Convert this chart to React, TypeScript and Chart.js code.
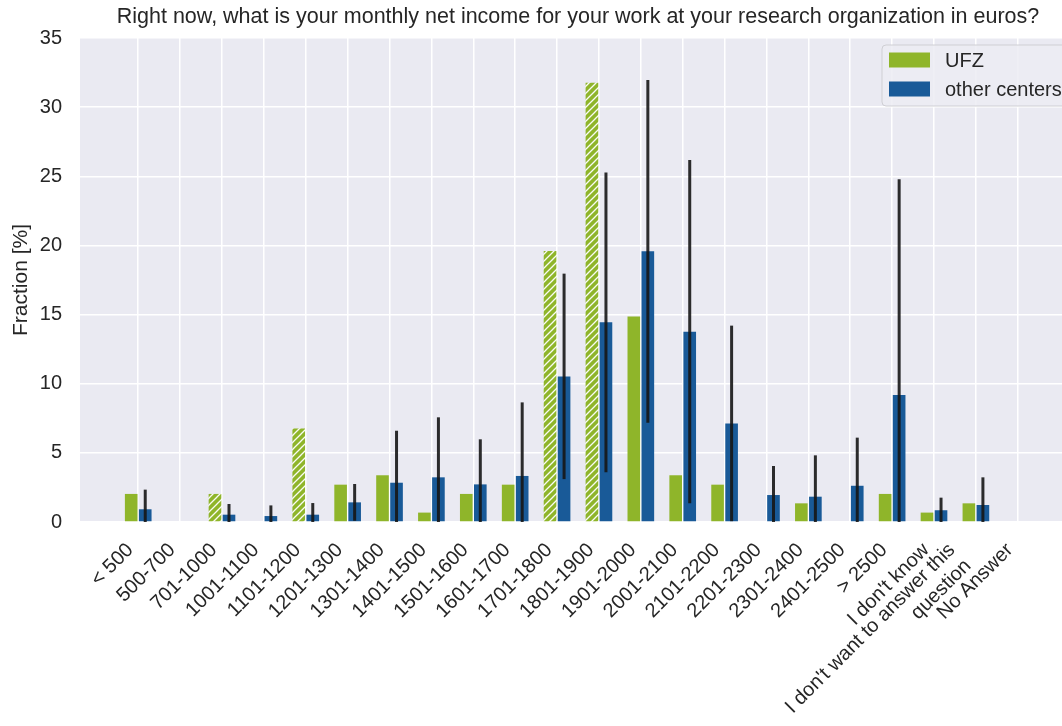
import React, { useEffect, useRef } from 'react';
import { Chart, registerables } from 'chart.js';

Chart.register(...registerables);

const TITLE = 'Right now, what is your monthly net income for your work at your research organization in euros?';
const Y_LABEL = 'Fraction [%]';

const categories: string[] = [
  '< 500', '500-700', '701-1000', '1001-1100', '1101-1200', '1201-1300', '1301-1400',
  '1401-1500', '1501-1600', '1601-1700', '1701-1800', '1801-1900', '1901-2000',
  '2001-2100', '2101-2200', '2201-2300', '2301-2400', '2401-2500', '> 2500',
  "I don't know", "I don't want to answer this\nquestion", 'No Answer',
];

const seriesNames = ['UFZ', 'other centers'];

const ufzValues = [
  2.03, 0, 2.03, 0, 6.76, 2.70, 3.38, 0.68, 2.03, 2.70, 19.59, 31.76, 14.86,
  3.38, 2.70, 0, 1.35, 0, 2.03, 0.68, 1.35, 0,
];

const ufzHatched = [
  false, false, true, false, true, false, false, false, false, false, true, true, false,
  false, false, false, false, false, false, false, false, false,
];

const otherValues = [
  0.92, 0, 0.53, 0.43, 0.53, 1.42, 2.84, 3.23, 2.72, 3.33, 10.53, 14.44, 19.57,
  13.76, 7.13, 1.95, 1.83, 2.62, 9.18, 0.85, 1.23, 0,
];

const otherErrors = [
  1.42, 0, 0.77, 0.77, 0.84, 1.33, 3.76, 4.34, 3.26, 5.32, 7.43, 10.84, 12.39,
  12.41, 7.07, 2.1, 2.99, 3.48, 15.6, 0.91, 2.0, 0,
];

const yTicks = [0, 5, 10, 15, 20, 25, 30, 35];

const GREEN = '#8fb52a';
const BLUE = '#195a98';
const BG = '#eaeaf2';
const TEXT = '#262626';
const FONT = "'Liberation Sans', Arial, sans-serif";

function makeHatch(): CanvasPattern | string {
  const s = 7;
  const c = document.createElement('canvas');
  c.width = s;
  c.height = s;
  const g = c.getContext('2d');
  if (!g) return GREEN;
  g.fillStyle = GREEN;
  g.fillRect(0, 0, s, s);
  g.strokeStyle = 'rgba(255,255,255,0.95)';
  g.lineWidth = 1.3;
  g.beginPath();
  g.moveTo(-1, s + 1);
  g.lineTo(s + 1, -1);
  g.moveTo(-1, 1);
  g.lineTo(1, -1);
  g.moveTo(s - 1, s + 1);
  g.lineTo(s + 1, s - 1);
  g.stroke();
  const p = g.createPattern(c, 'repeat');
  return p || GREEN;
}

const bgPlugin = {
  id: 'bgArea',
  beforeDraw(chart: any) {
    const { ctx, chartArea: a } = chart;
    ctx.save();
    ctx.fillStyle = BG;
    ctx.fillRect(a.left, a.top, a.right - a.left, a.bottom - a.top);
    ctx.restore();
  },
};

const errorPlugin = {
  id: 'errorBars',
  afterDatasetsDraw(chart: any) {
    const { ctx, chartArea: a } = chart;
    const ys = chart.scales.y;
    const meta = chart.getDatasetMeta(1);
    ctx.save();
    ctx.beginPath();
    ctx.rect(a.left, a.top, a.right - a.left, a.bottom - a.top);
    ctx.clip();
    ctx.strokeStyle = 'rgba(22,22,22,0.9)';
    ctx.lineWidth = 3;
    ctx.lineCap = 'butt';
    meta.data.forEach((el: any, i: number) => {
      const e = otherErrors[i];
      if (!e) return;
      const v = otherValues[i];
      const top = ys.getPixelForValue(v + e);
      const bot = ys.getPixelForValue(Math.max(v - e, ys.min));
      ctx.beginPath();
      ctx.moveTo(el.x, top);
      ctx.lineTo(el.x, bot);
      ctx.stroke();
    });
    ctx.restore();
  },
};

// Title centred over the plot area, and rotated category labels aligned like matplotlib (ha='right')
const textPlugin = {
  id: 'texts',
  afterDraw(chart: any) {
    const { ctx, chartArea: a } = chart;
    const xs = chart.scales.x;
    ctx.save();
    ctx.fillStyle = TEXT;
    ctx.font = `21.5px ${FONT}`;
    ctx.textAlign = 'center';
    ctx.textBaseline = 'middle';
    ctx.fillText(TITLE, (a.left + a.right) / 2, 17);

    const fs = 20;
    const lh = 22.5;
    const c45 = Math.SQRT1_2;
    const top = a.bottom + 17;
    ctx.font = `${fs}px ${FONT}`;
    ctx.textAlign = 'right';
    ctx.textBaseline = 'middle';
    categories.forEach((label, i) => {
      const lines = label.split('\n');
      const W = Math.max(...lines.map((l) => ctx.measureText(l).width));
      const H = lines.length * lh;
      const tickX = xs.getPixelForValue(i);
      const tx = tickX - c45 * (W + H);
      const ty = top + c45 * W;
      ctx.save();
      ctx.translate(tx, ty);
      ctx.rotate(-Math.PI / 4);
      lines.forEach((l, k) => {
        ctx.fillText(l, W, lh * (k + 0.5));
      });
      ctx.restore();
    });
    ctx.restore();
  },
};

const legendPlugin = {
  id: 'innerLegend',
  afterDraw(chart: any) {
    const { ctx, chartArea: a } = chart;
    ctx.save();
    ctx.font = `20px ${FONT}`;
    const padL = 7;
    const patchW = 41;
    const gap = 15;
    const x0 = a.right - 194;
    const w = 192;
    const h = 61;
    const y0 = a.top + 7;
    ctx.fillStyle = 'rgba(236,236,243,0.85)';
    ctx.strokeStyle = '#cfcfd4';
    ctx.lineWidth = 1;
    ctx.beginPath();
    const r = 4;
    ctx.moveTo(x0 + r, y0);
    ctx.lineTo(x0 + w - r, y0);
    ctx.arcTo(x0 + w, y0, x0 + w, y0 + r, r);
    ctx.lineTo(x0 + w, y0 + h - r);
    ctx.arcTo(x0 + w, y0 + h, x0 + w - r, y0 + h, r);
    ctx.lineTo(x0 + r, y0 + h);
    ctx.arcTo(x0, y0 + h, x0, y0 + h - r, r);
    ctx.lineTo(x0, y0 + r);
    ctx.arcTo(x0, y0, x0 + r, y0, r);
    ctx.closePath();
    ctx.fill();
    ctx.stroke();
    const colors = [GREEN, BLUE];
    const rows = [y0 + 15, y0 + 44];
    seriesNames.forEach((n, i) => {
      ctx.fillStyle = colors[i];
      ctx.fillRect(x0 + padL, rows[i] - 7.5, patchW, 15);
      ctx.fillStyle = TEXT;
      ctx.textBaseline = 'middle';
      ctx.textAlign = 'left';
      ctx.fillText(n, x0 + padL + patchW + gap, rows[i] + 1);
    });
    ctx.restore();
  },
};

export default function App() {
  const ref = useRef<HTMLCanvasElement | null>(null);

  useEffect(() => {
    const canvas = ref.current;
    if (!canvas) return;
    const hatch = makeHatch();
    const ufzBg = ufzHatched.map((h) => (h ? hatch : GREEN));
    const chart = new Chart(canvas, {
      type: 'bar',
      data: {
        datasets: [
          {
            label: seriesNames[0],
            data: ufzValues.map((v, i) => ({ x: i, y: v })),
            backgroundColor: ufzBg as any,
            borderWidth: 0,
            categoryPercentage: 0.67,
            barPercentage: 0.9,
          },
          {
            label: seriesNames[1],
            data: otherValues.map((v, i) => ({ x: i, y: v })),
            backgroundColor: BLUE,
            borderWidth: 0,
            categoryPercentage: 0.67,
            barPercentage: 0.9,
          },
        ],
      },
      options: {
        animation: false,
        responsive: true,
        maintainAspectRatio: false,
        layout: { padding: { left: 0, right: 14, top: 38, bottom: 0 } },
        plugins: {
          legend: { display: false },
          tooltip: { enabled: false },
          title: { display: false },
        },
        scales: {
          x: {
            type: 'linear',
            min: -1.39,
            max: 22.39,
            offset: false,
            afterBuildTicks(scale: any) {
              scale.ticks = categories.map((_, i) => ({ value: i }));
            },
            afterFit(scale: any) {
              scale.height = 726 - 522;
            },
            ticks: { display: false },
            grid: { color: '#ffffff', lineWidth: 1.5, drawTicks: false, offset: false },
            border: { display: false },
          },
          y: {
            min: 0,
            max: 35,
            afterBuildTicks(scale: any) {
              scale.ticks = yTicks.map((v) => ({ value: v }));
            },
            afterFit(scale: any) {
              scale.width = 80;
            },
            ticks: {
              padding: 18,
              color: TEXT,
              font: { family: FONT, size: 20 },
            },
            title: {
              display: true,
              text: Y_LABEL,
              color: TEXT,
              font: { family: FONT, size: 21 },
              padding: { top: 9, bottom: 0 },
            },
            grid: { color: '#ffffff', lineWidth: 1.5, drawTicks: false },
            border: { display: false },
          },
        },
      },
      plugins: [bgPlugin, errorPlugin, textPlugin, legendPlugin],
    });
    return () => chart.destroy();
  }, []);

  return (
    <div style={{ position: 'fixed', left: 0, top: 0, width: 1062, height: 726, overflow: 'hidden', background: '#ffffff' }}>
      <div style={{ position: 'absolute', left: 0, top: 0, width: 1090, height: 726 }}>
        <canvas ref={ref} />
      </div>
    </div>
  );
}
